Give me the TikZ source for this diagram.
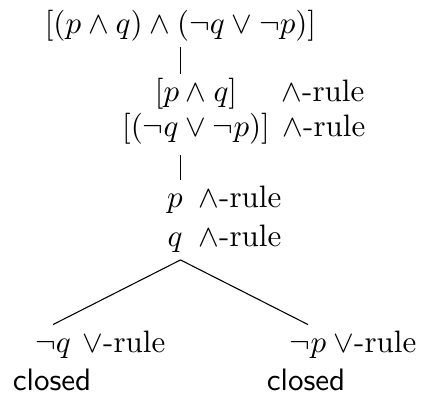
\documentclass[tikz,border=0pt]{standalone}
\usepackage{amsmath,amssymb}
\usepackage{tikz}
\usetikzlibrary{positioning,calc}

\begin{document}
\begin{tikzpicture}[x=0.3226pt,y=-0.3226pt, line width=0.35pt,
    frm/.style={anchor=base, inner sep=1.5pt, text height=7.5pt, text depth=2.5pt},
    rul/.style={anchor=base west, inner sep=0pt},
    cls/.style={anchor=base, inner sep=0pt, font=\sffamily}]
    \useasboundingbox (0,0) rectangle (424,396);

    % root formula
    \node[frm] (root) at (180.5,34) {$[(p \wedge q) \wedge (\neg q \vee \neg p)]$};

    % first step
    \node[frm] (f1) at (196,102) {$[p \wedge q]$};
    \node[rul] (r1) at (281,102) {$\wedge$-rule};
    \node[frm] (f2) at (196,137) {$[(\neg q \vee \neg p)]$};
    \node[rul] (r2) at (282,137) {$\wedge$-rule};
    \draw (root.south) -- (root.south |- f1.north);

    % second step
    \node[frm] (p) at (175,208) {$p$};
    \node[rul] (r3) at (198,208) {$\wedge$-rule};
    \node[frm] (q) at (175,247) {$q$};
    \node[rul] (r4) at (198,247) {$\wedge$-rule};
    \draw ([yshift=-1.5pt]root.south |- f2.south) -- (root.south |- p.north);

    % branches
    \node[frm] (nq) at (53,353) {$\neg q$};
    \node[rul] (r5) at (82,353) {$\vee$-rule};
    \node[cls] (c1) at (52,390) {closed};
    \node[frm] (np) at (308,353) {$\neg p$};
    \node[rul] (r6) at (333,353) {$\vee$-rule};
    \node[cls] (c2) at (306,390) {closed};
    \draw (root.south |- q.south) -- (nq.north);
    \draw (root.south |- q.south) -- (np.north);
\end{tikzpicture}
\end{document}
